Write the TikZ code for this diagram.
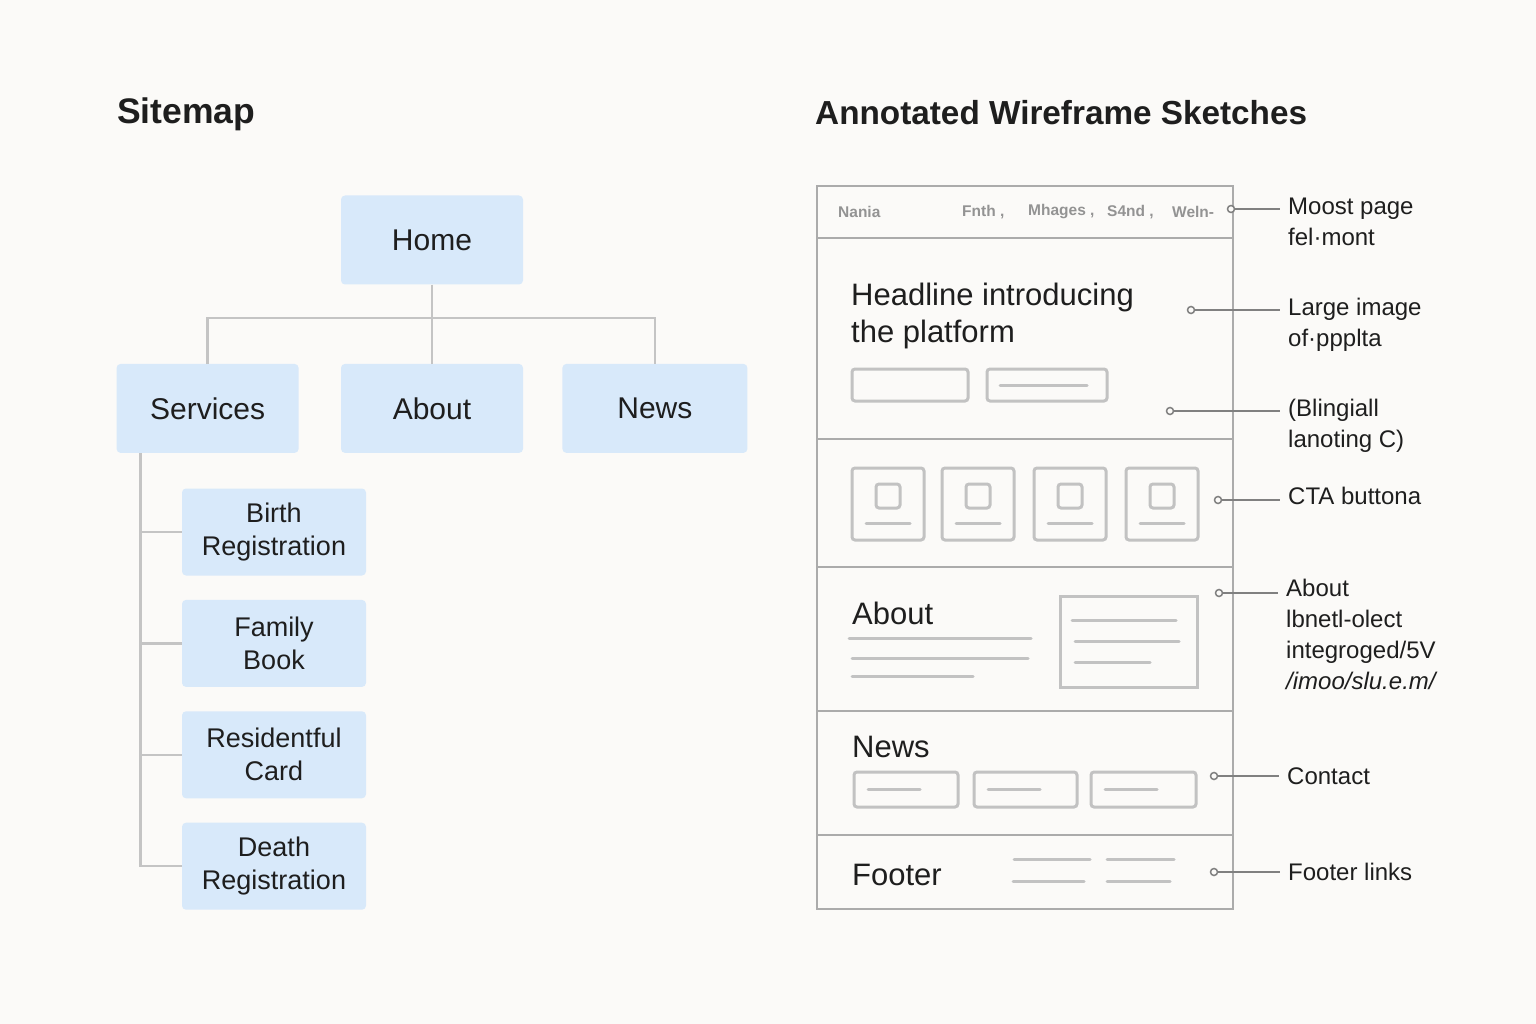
\documentclass[tikz,border=0pt]{standalone}
\usepackage{fontspec}
\setmainfont{Liberation Sans}
\usetikzlibrary{positioning}
\definecolor{paper}{HTML}{FBFAF8}
\definecolor{boxblue}{HTML}{D8E9FA}
\definecolor{treeline}{HTML}{C4C4C4}
\definecolor{wireline}{HTML}{ABABAB}
\definecolor{sketch}{HTML}{C2C2C2}
\definecolor{noteline}{HTML}{808080}
\definecolor{ink}{HTML}{1E1E1E}

\begin{document}
\begin{tikzpicture}[x=1pt,y=-1pt,
    title/.style={anchor=west,inner sep=0,text=ink,
        font=\fontsize{34}{40}\selectfont\bfseries},
    page/.style={fill=boxblue,rounded corners=4pt,text=ink,
        minimum width=182pt,minimum height=89pt,font=\fontsize{30}{36}\selectfont},
    leaf/.style={fill=boxblue,rounded corners=4pt,text=ink,align=center,
        minimum width=184pt,minimum height=87pt,font=\fontsize{27}{33}\selectfont},
    tree/.style={draw=treeline,line width=2.5pt},
    wire/.style={draw=wireline,line width=2pt},
    sk/.style={draw=sketch,line width=3pt,rounded corners=3pt,line cap=round},
    wtext/.style={anchor=west,inner sep=0,text=ink,font=\fontsize{31}{37}\selectfont},
    navtext/.style={anchor=west,inner sep=0,text=gray!85,
        font=\fontsize{15.5}{18}\selectfont\bfseries},
    dot/.style={circle,draw=noteline,line width=1.5pt,inner sep=0,
        minimum size=7pt,fill=paper},
    note/.style={draw=noteline,line width=1.8pt,shorten >=8pt},
    notetext/.style={anchor=north west,inner sep=0,align=left,text=ink,
        font=\fontsize{24}{31}\selectfont}
]
\fill[paper] (0,0) rectangle (1536,1024);
\useasboundingbox (0,0) rectangle (1536,1024);

% sitemap
\node[title, font=\fontsize{35.5}{40}\selectfont\bfseries] (sitemap) at (117,114) {Sitemap};
\node[page] (home) at (432,240) {Home};
\node[page, below=79pt of home] (about) {About};
\node[page, left=42pt of about] (services) {Services};
\node[page, right=39pt of about, minimum width=185pt] (news) {News};
\coordinate (bus) at (432,318);
\draw[tree] (home) -- (bus);
\draw[tree] (bus) -- (about);
\draw[tree] (services.north) |- (bus) -| (news.north);

\node[leaf] (birth) at (274,532) {Birth\\Registration};
\node[leaf, below=24pt of birth] (family) {Family\\Book};
\node[leaf, below=24pt of family] (card) {Residentful\\Card};
\node[leaf, below=24pt of card] (death) {Death\\Registration};
\coordinate (trunk) at ([xshift=24pt]services.south west);
\draw[tree] (trunk) |- (death.west);
\foreach \n in {birth,family,card}
    \draw[tree] (trunk |- \n.west) -- (\n.west);

% wireframe
\node[title, font=\fontsize{33.3}{40}\selectfont\bfseries] (wftitle) at (815,113) {Annotated Wireframe Sketches};
\node[wire, minimum width=416pt, minimum height=723pt, inner sep=0] (frame) at (1025,547.5) {};
\foreach \y in {238,439,567,711,835}
    \draw[wire] (817,\y) -- (1233,\y);

\node[navtext] (nav0) at (838,212) {Nania};
\node[navtext] (nav1) at (962,212) {Fnth ,};
\node[navtext] (nav2) at (1028,212) {Mhages ,};
\node[navtext] (nav3) at (1107,212) {S4nd ,};
\node[navtext] (nav4) at (1172,212) {Weln-};

\node[wtext, anchor=north west, align=left] (headline) at (851,283) {Headline introducing\\the platform};
\draw[sk] (852,369) rectangle (968,401);
\draw[sk] (987,369) rectangle (1107,401);
\draw[sk] (1000,385) -- (1087,385);

\foreach \x in {888,978,1070,1162} {
    \draw[sk] (\x-36,468) rectangle (\x+36,540);
    \draw[sk] (\x-12,484) rectangle (\x+12,508);
    \draw[sk] (\x-22,523) -- (\x+22,523);
}

\node[wtext] (abouthead) at (852,613) {About};
\draw[sk] (849,638) -- (1031,638);
\draw[sk] (852,658) -- (1028,658);
\draw[sk] (852,676) -- (973,676);
\draw[sk, rounded corners=0pt] (1060,596) rectangle (1197,687);
\draw[sk] (1072,620) -- (1176,620);
\draw[sk] (1075,641) -- (1179,641);
\draw[sk] (1075,662) -- (1150,662);

\node[wtext] (newshead) at (852,747) {News};
\foreach \x/\w in {854/104,974/103,1091/105} {
    \draw[sk] (\x,772) rectangle (\x+\w,807);
    \draw[sk] (\x+14,789) -- (\x+66,789);
}

\node[wtext] (footerhead) at (852,875) {Footer};
\draw[sk] (1014,859) -- (1090,859);
\draw[sk] (1013,881) -- (1084,881);
\draw[sk] (1107,859) -- (1174,859);
\draw[sk] (1107,881) -- (1170,881);

% annotations
\node[dot] (d1) at (1231,209) {};
\node[notetext] (n1) at (1288,198) {Moost page\\fel·mont};
\draw[note] (d1) -- (d1 -| n1.west);

\node[dot] (d2) at (1191,310) {};
\node[notetext] (n2) at (1288,298) {Large image\\of·ppplta};
\draw[note] (d2) -- (d2 -| n2.west);

\node[dot] (d3) at (1170,411) {};
\node[notetext] (n3) at (1288,399) {(Blingiall\\lanoting C)};
\draw[note] (d3) -- (d3 -| n3.west);

\node[dot] (d4) at (1218,500) {};
\node[notetext, anchor=west] (n4) at (1288,496) {CTA buttona};
\draw[note] (d4) -- (d4 -| n4.west);

\node[dot] (d5) at (1219,593) {};
\node[notetext] (n5) at (1286,579) {About\\lbnetl-olect\\integroged/5V\\\textit{/imoo/slu.e.m/}};
\draw[note] (d5) -- (d5 -| n5.west);

\node[dot] (d6) at (1214,776) {};
\node[notetext, anchor=west] (n6) at (1287,776) {Contact};
\draw[note] (d6) -- (d6 -| n6.west);

\node[dot] (d7) at (1214,872) {};
\node[notetext, anchor=west] (n7) at (1288,872) {Footer links};
\draw[note] (d7) -- (d7 -| n7.west);
\end{tikzpicture}
\end{document}
